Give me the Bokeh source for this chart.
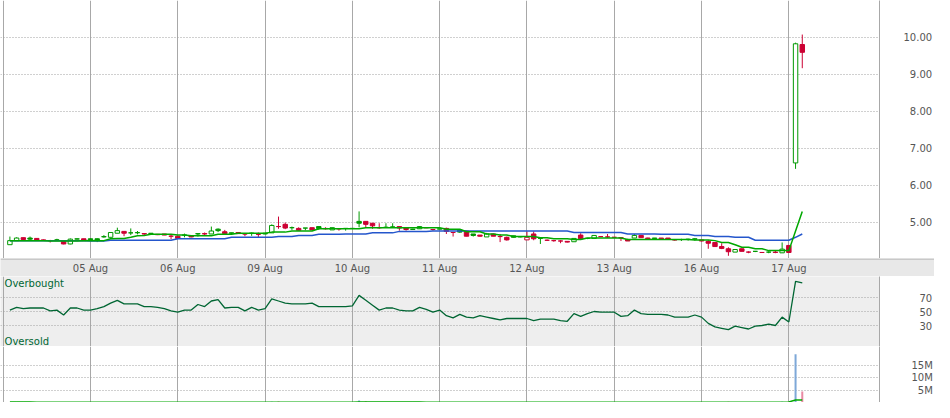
from bokeh.plotting import figure
from bokeh.layouts import column
from bokeh.models import Range1d, FixedTicker, ColumnDataSource, Label
from bokeh.embed import file_html
from bokeh.resources import INLINE
from bokeh.core.properties import value

# ---------------- data ----------------
day_labels = ["04 Aug", "05 Aug", "06 Aug", "09 Aug", "10 Aug", "11 Aug",
              "12 Aug", "13 Aug", "16 Aug", "17 Aug"]
bars_per_session = 13      # half-hour bars per trading day
first_bar = 1              # first bar shown (slot 1 of 04 Aug)

opens = [4.40, 4.51, 4.59, 4.58, 4.57, 4.53, 4.51, 4.53, 4.51, 4.42, 4.55, 4.56, 4.56,
         4.56, 4.61, 4.60, 4.71, 4.76, 4.72, 4.72, 4.70, 4.71, 4.68, 4.69, 4.63, 4.63,
         4.66, 4.64, 4.69, 4.70, 4.69, 4.82, 4.75, 4.72, 4.73, 4.69, 4.71, 4.68, 4.71,
         4.72, 4.89, 4.95, 4.86, 4.84, 4.85, 4.86, 4.89, 4.84, 4.80, 4.83, 4.84, 4.84,
         5.03, 5.03, 4.98, 4.86, 4.87, 4.88, 4.89, 4.85, 4.81, 4.83, 4.86, 4.81, 4.82,
         4.84, 4.73, 4.80, 4.77, 4.69, 4.66, 4.61, 4.69, 4.62, 4.60, 4.64, 4.62, 4.53,
         4.69, 4.57, 4.52, 4.51, 4.50, 4.49, 4.48, 4.66, 4.57, 4.57, 4.62, 4.61, 4.60,
         4.59, 4.54, 4.58, 4.65, 4.58, 4.58, 4.58, 4.58, 4.53, 4.54, 4.54, 4.55, 4.53,
         4.49, 4.46, 4.35, 4.29, 4.20, 4.29, 4.20, 4.22, 4.19, 4.20, 4.20, 4.18, 4.38, 6.61, 9.81]
highs = [4.62, 4.60, 4.59, 4.62, 4.58, 4.54, 4.53, 4.56, 4.51, 4.57, 4.57, 4.56, 4.57,
         4.57, 4.66, 4.73, 4.86, 4.76, 4.84, 4.77, 4.70, 4.71, 4.68, 4.69, 4.69, 4.64,
         4.70, 4.64, 4.71, 4.73, 4.89, 4.84, 4.80, 4.72, 4.73, 4.69, 4.73, 4.73, 4.71,
         4.95, 5.16, 5.00, 4.89, 4.87, 4.85, 4.86, 4.89, 4.87, 4.86, 4.84, 4.85, 4.85,
         5.30, 5.03, 4.98, 4.98, 4.98, 4.98, 4.89, 4.86, 4.83, 4.90, 4.87, 4.82, 4.83,
         4.86, 4.73, 4.81, 4.78, 4.69, 4.66, 4.72, 4.70, 4.69, 4.62, 4.64, 4.62, 4.76,
         4.76, 4.59, 4.54, 4.52, 4.52, 4.49, 4.57, 4.71, 4.58, 4.65, 4.63, 4.69, 4.60,
         4.59, 4.56, 4.69, 4.66, 4.59, 4.58, 4.58, 4.58, 4.55, 4.56, 4.56, 4.58, 4.54,
         4.53, 4.46, 4.44, 4.33, 4.27, 4.29, 4.22, 4.23, 4.20, 4.22, 4.23, 4.46, 4.38, 9.86, 10.08]
lows = [4.40, 4.51, 4.50, 4.50, 4.52, 4.52, 4.46, 4.50, 4.41, 4.41, 4.54, 4.51, 4.50,
        4.47, 4.59, 4.60, 4.71, 4.63, 4.66, 4.68, 4.65, 4.69, 4.66, 4.66, 4.55, 4.56,
        4.60, 4.60, 4.62, 4.66, 4.69, 4.74, 4.69, 4.69, 4.70, 4.63, 4.64, 4.60, 4.68,
        4.72, 4.83, 4.82, 4.80, 4.78, 4.79, 4.80, 4.80, 4.81, 4.80, 4.78, 4.78, 4.83,
        4.87, 4.87, 4.83, 4.83, 4.86, 4.86, 4.78, 4.78, 4.80, 4.83, 4.85, 4.78, 4.82,
        4.69, 4.62, 4.72, 4.63, 4.62, 4.62, 4.61, 4.63, 4.47, 4.51, 4.60, 4.60, 4.53,
        4.52, 4.42, 4.50, 4.48, 4.44, 4.46, 4.48, 4.53, 4.55, 4.57, 4.62, 4.58, 4.59,
        4.50, 4.50, 4.58, 4.59, 4.56, 4.57, 4.56, 4.55, 4.51, 4.50, 4.51, 4.51, 4.49,
        4.29, 4.35, 4.28, 4.10, 4.20, 4.22, 4.17, 4.20, 4.18, 4.17, 4.17, 4.18, 4.18, 6.45, 9.17]
closes = [4.51, 4.58, 4.54, 4.55, 4.53, 4.52, 4.51, 4.53, 4.42, 4.55, 4.56, 4.51, 4.52,
          4.53, 4.62, 4.73, 4.78, 4.71, 4.72, 4.73, 4.69, 4.70, 4.67, 4.66, 4.63, 4.57,
          4.66, 4.61, 4.70, 4.69, 4.77, 4.78, 4.70, 4.71, 4.70, 4.69, 4.71, 4.68, 4.69,
          4.92, 4.89, 4.85, 4.86, 4.79, 4.85, 4.80, 4.84, 4.83, 4.86, 4.83, 4.84, 4.84,
          4.98, 4.95, 4.91, 4.86, 4.87, 4.88, 4.85, 4.81, 4.82, 4.89, 4.86, 4.81, 4.83,
          4.76, 4.73, 4.74, 4.63, 4.65, 4.63, 4.69, 4.63, 4.62, 4.53, 4.60, 4.61, 4.60,
          4.56, 4.57, 4.52, 4.51, 4.50, 4.47, 4.57, 4.56, 4.57, 4.65, 4.62, 4.61, 4.60,
          4.58, 4.50, 4.65, 4.59, 4.56, 4.57, 4.56, 4.55, 4.53, 4.54, 4.55, 4.56, 4.50,
          4.44, 4.35, 4.30, 4.21, 4.27, 4.22, 4.20, 4.22, 4.19, 4.20, 4.19, 4.28, 4.19, 9.83, 9.60]

ma_short = [4.51, 4.51, 4.51, 4.51, 4.51, 4.51, 4.50, 4.50, 4.50, 4.50, 4.50, 4.51, 4.51,
            4.51, 4.51, 4.56, 4.57, 4.57, 4.60, 4.64, 4.65, 4.68, 4.68, 4.68, 4.68, 4.66,
            4.66, 4.64, 4.64, 4.64, 4.64, 4.68, 4.68, 4.68, 4.71, 4.71, 4.71, 4.71, 4.71,
            4.74, 4.74, 4.74, 4.77, 4.77, 4.77, 4.77, 4.83, 4.83, 4.83, 4.83, 4.83, 4.83,
            4.83, 4.86, 4.86, 4.86, 4.86, 4.86, 4.86, 4.86, 4.86, 4.86, 4.86, 4.86, 4.86,
            4.82, 4.82, 4.82, 4.75, 4.75, 4.75, 4.69, 4.69, 4.66, 4.66, 4.62, 4.62, 4.62,
            4.62, 4.59, 4.59, 4.56, 4.56, 4.56, 4.54, 4.54, 4.58, 4.58, 4.58, 4.58, 4.58,
            4.58, 4.54, 4.54, 4.54, 4.54, 4.54, 4.54, 4.54, 4.54, 4.54, 4.54, 4.53, 4.53,
            4.53, 4.51, 4.46, 4.46, 4.40, 4.33, 4.33, 4.29, 4.29, 4.24, 4.24, 4.24, 4.24, 4.77, 5.30]
ma_long = [4.51, 4.51, 4.51, 4.51, 4.51, 4.51, 4.51, 4.51, 4.51, 4.51, 4.51, 4.51, 4.50,
           4.50, 4.50, 4.52, 4.52, 4.52, 4.52, 4.52, 4.52, 4.52, 4.52, 4.52, 4.52, 4.56,
           4.56, 4.56, 4.56, 4.56, 4.56, 4.56, 4.56, 4.60, 4.60, 4.60, 4.60, 4.60, 4.60,
           4.60, 4.62, 4.62, 4.62, 4.65, 4.65, 4.65, 4.68, 4.68, 4.68, 4.68, 4.69, 4.69,
           4.69, 4.69, 4.72, 4.72, 4.72, 4.72, 4.76, 4.76, 4.76, 4.76, 4.76, 4.77, 4.77,
           4.77, 4.77, 4.77, 4.77, 4.77, 4.77, 4.77, 4.77, 4.77, 4.77, 4.77, 4.77, 4.77,
           4.77, 4.77, 4.77, 4.77, 4.77, 4.77, 4.73, 4.73, 4.73, 4.73, 4.73, 4.73, 4.73,
           4.73, 4.69, 4.69, 4.69, 4.69, 4.69, 4.68, 4.68, 4.68, 4.68, 4.68, 4.65, 4.65,
           4.65, 4.62, 4.62, 4.62, 4.60, 4.60, 4.60, 4.52, 4.52, 4.52, 4.52, 4.52, 4.52, 4.60, 4.69]

rsi = [52, 56, 54, 55, 55, 55, 51, 52, 45, 55, 55, 52, 52,
       54, 57, 62, 66, 61, 61, 61, 57, 57, 56, 54, 51, 49,
       52, 52, 60, 57, 65, 67, 55, 56, 56, 51, 56, 52, 54,
       68, 65, 62, 61, 61, 61, 62, 57, 57, 57, 57, 57, 58,
       73, 66, 59, 52, 55, 55, 52, 51, 51, 56, 53, 49, 52,
       44, 41, 46, 42, 41, 44, 42, 40, 38, 40, 40, 40, 40,
       37, 39, 39, 39, 37, 36, 47, 43, 47, 50, 49, 49, 49,
       43, 44, 52, 47, 46, 46, 46, 45, 42, 42, 42, 45, 42,
       33, 28, 26, 24, 29, 27, 25, 29, 30, 32, 30, 42, 35, 93, 91]

volume_m = [0.25, 0.12, 0.10, 0.15, 0.08, 0.10, 0.09, 0.12, 0.18, 0.15, 0.07, 0.09, 0.14,
            0.12, 0.16, 0.20, 0.22, 0.15, 0.13, 0.10, 0.09, 0.08, 0.10, 0.07, 0.12, 0.11,
            0.13, 0.09, 0.10, 0.08, 0.18, 0.14, 0.12, 0.09, 0.08, 0.10, 0.09, 0.11, 0.12,
            0.30, 0.40, 0.25, 0.15, 0.12, 0.10, 0.11, 0.13, 0.09, 0.12, 0.08, 0.09, 0.10,
            0.80, 0.50, 0.22, 0.14, 0.10, 0.09, 0.15, 0.12, 0.08, 0.14, 0.09, 0.10, 0.08,
            0.20, 0.16, 0.12, 0.18, 0.14, 0.10, 0.15, 0.12, 0.17, 0.14, 0.09, 0.08, 0.13,
            0.15, 0.12, 0.10, 0.09, 0.11, 0.12, 0.16, 0.14, 0.09, 0.13, 0.08, 0.10, 0.07,
            0.10, 0.12, 0.15, 0.11, 0.09, 0.08, 0.10, 0.09, 0.11, 0.08, 0.07, 0.09, 0.12,
            0.25, 0.22, 0.20, 0.28, 0.15, 0.14, 0.10, 0.09, 0.08, 0.10, 0.09, 0.30, 0.40, 19.60, 4.50]
vol_ma = [0.18, 0.17, 0.16, 0.16, 0.15, 0.15, 0.14, 0.14, 0.14, 0.14, 0.13, 0.13, 0.13,
          0.13, 0.13, 0.14, 0.14, 0.14, 0.14, 0.14, 0.13, 0.13, 0.13, 0.12, 0.12, 0.12,
          0.12, 0.12, 0.12, 0.11, 0.12, 0.12, 0.12, 0.11, 0.11, 0.11, 0.11, 0.11, 0.11,
          0.12, 0.14, 0.15, 0.15, 0.15, 0.15, 0.15, 0.15, 0.15, 0.15, 0.14, 0.14, 0.14,
          0.17, 0.19, 0.19, 0.19, 0.19, 0.18, 0.18, 0.18, 0.17, 0.16, 0.15, 0.14, 0.14,
          0.14, 0.14, 0.14, 0.13, 0.13, 0.13, 0.13, 0.13, 0.13, 0.13, 0.13, 0.13, 0.13,
          0.13, 0.13, 0.13, 0.13, 0.12, 0.12, 0.12, 0.12, 0.12, 0.12, 0.12, 0.12, 0.12,
          0.12, 0.12, 0.12, 0.12, 0.11, 0.11, 0.11, 0.11, 0.11, 0.11, 0.10, 0.10, 0.10,
          0.11, 0.12, 0.12, 0.13, 0.13, 0.13, 0.13, 0.13, 0.13, 0.13, 0.13, 0.14, 0.25, 1.00, 1.02]

price_ticks = [5, 6, 7, 8, 9, 10]
rsi_ticks = [30, 50, 70]
rsi_zones = ["Overbought", "Oversold"]
vol_ticks = [5, 10, 15]
vol_tick_labels = ["5M", "10M", "15M"]

# ---------------- styling / layout ----------------
FONT = "DejaVu Sans"
GREEN = "#009900"
RED = "#cc0033"
MA_GREEN = "#00a800"
MA_BLUE = "#2456cc"
RSI_COL = "#006633"
VOL_UP = "#7ea8d8"
VOL_DN = "#e98aa3"
VGRID = "#a8a8a8"
HGRID = "#a0a0a0"
BAND = "#e8e8e8"
RSI_BG = "#eeeeee"
LABEL = "#555555"
FSP = "\u2007"   # figure space: keeps the right-hand labels flush right

FRAME_W = 879
AXIS_W = 55
X0, X1 = -0.4, 130.5
shared_x = Range1d(X0, X1)

n = len(closes)
xs = [first_bar + k for k in range(n)]
session_x = [k * bars_per_session for k in range(len(day_labels))]
up = [k == 0 or closes[k] >= closes[k - 1] for k in range(n)]
col = [GREEN if u else RED for u in up]
fill = ["white" if closes[k] > opens[k] else col[k] for k in range(n)]
src = ColumnDataSource(dict(
    x=xs, h=highs, l=lows,
    top=[max(o, c) for o, c in zip(opens, closes)],
    bottom=[min(o, c) for o, c in zip(opens, closes)],
    col=col, fill=fill,
    v=volume_m, vcol=[VOL_UP if u else VOL_DN for u in up],
))


def flush_right(labels):
    w = max(len(s) for s in labels)
    return [FSP * (w - len(s)) + s for s in labels]


def panel(h, y0, y1, ticks, labels, standoff, bg="white"):
    p = figure(frame_width=FRAME_W, frame_height=h, x_range=shared_x,
               y_range=Range1d(y0, y1), x_axis_location=None,
               y_axis_location="right", toolbar_location=None,
               output_backend="svg", min_border_left=0, min_border_right=AXIS_W,
               min_border_top=0, min_border_bottom=0, outline_line_color=None,
               background_fill_color=bg, border_fill_color="white", title=None)
    p.xgrid.ticker = FixedTicker(ticks=session_x)
    p.xgrid.grid_line_color = VGRID
    p.xgrid.grid_line_width = 1
    ax = p.yaxis[0]
    ax.ticker = FixedTicker(ticks=ticks)
    ax.major_label_overrides = dict(zip(ticks, flush_right(labels)))
    ax.axis_line_color = VGRID
    ax.major_tick_line_color = None
    ax.minor_tick_line_color = None
    ax.major_tick_out = 0
    ax.major_tick_in = 0
    ax.major_label_text_font = FONT
    ax.major_label_text_font_size = "10px"
    ax.major_label_text_color = LABEL
    ax.major_label_standoff = standoff
    p.ygrid.grid_line_color = HGRID
    p.ygrid.grid_line_dash = "1 2"
    return p


# price panel
p_price = panel(258, 4.027, 11.0, price_ticks, [f"{t:.2f}" for t in price_ticks], 24)
p_price.segment(x0="x", y0="l", x1="x", y1="h", line_color="col", line_width=1, source=src)
p_price.vbar(x="x", width=0.66, top="top", bottom="bottom", fill_color="fill",
             line_color="col", line_width=1, source=src)
p_price.line(xs, ma_long, line_color=MA_BLUE, line_width=1.5)
p_price.line(xs, ma_short, line_color=MA_GREEN, line_width=1.5)

# date band (spans the full width, same scale)
DATE_W = FRAME_W + AXIS_W
DATE_X1 = X0 + (X1 - X0) * DATE_W / FRAME_W
p_date = figure(frame_width=DATE_W, frame_height=18,
                x_range=Range1d(X0, DATE_X1),
                y_range=Range1d(0, 18), x_axis_location=None, y_axis_location=None,
                toolbar_location=None, output_backend="svg", min_border=0,
                outline_line_color=None, background_fill_color=BAND,
                border_fill_color=BAND, title=None)
p_date.grid.visible = False
p_date.segment(x0=[X0], y0=[17.5], x1=[DATE_X1], y1=[17.5],
               line_color=VGRID, line_width=1)
p_date.text(x=session_x[1:], y=[8] * (len(day_labels) - 1), text=day_labels[1:],
            text_align="center", text_baseline="middle", text_font=value(FONT),
            text_font_size="10px", text_color=LABEL)

# RSI panel
p_rsi = panel(70, 0, 100, rsi_ticks, [str(t) for t in rsi_ticks], 40, bg=RSI_BG)
p_rsi.line(xs, rsi, line_color=RSI_COL, line_width=1.3)
for txt, yv in zip(rsi_zones, [90, 7]):
    p_rsi.add_layout(Label(x=0.2, y=yv, text=txt, text_font=FONT, text_font_size="10px",
                           text_color=RSI_COL, text_baseline="middle"))

# volume panel
p_vol = panel(56, 0, 22.7, vol_ticks, vol_tick_labels, 32)
p_vol.vbar(x="x", width=0.3, top="v", bottom=0, fill_color="vcol", line_color=None, source=src)
p_vol.line(xs, vol_ma, line_color=MA_GREEN, line_width=1.5)

layout = column(p_price, p_date, p_rsi, p_vol, spacing=0)
open("out.html", "w").write(file_html(layout, INLINE))
